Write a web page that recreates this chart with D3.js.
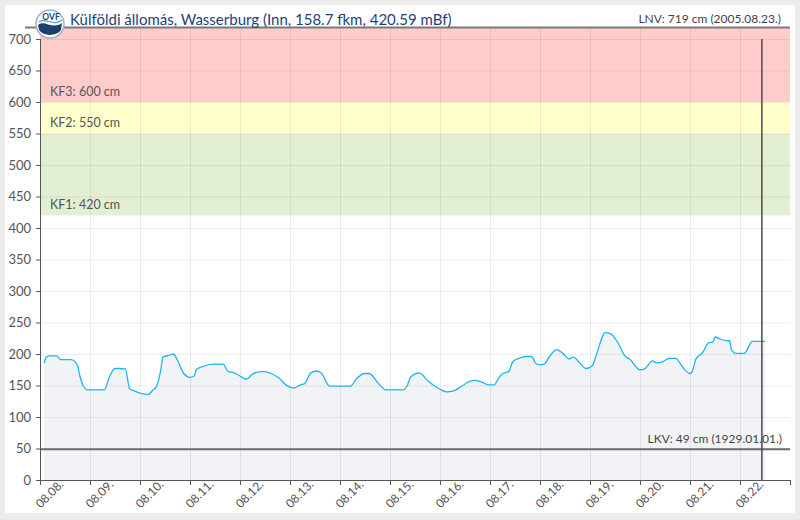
<!DOCTYPE html>
<html>
<head>
<meta charset="utf-8">
<script src="https://cdn.jsdelivr.net/npm/d3@7"></script>
<style>
  html, body { margin: 0; padding: 0; background: #ececec; }
  #chart { position: absolute; left: 5px; top: 5px; width: 790px; height: 508px; background: #fff; overflow: hidden; }
  svg { font-family: Lato, "Open Sans", sans-serif; }
</style>
</head>
<body>
<div id="chart"></div>
<script>
// station info
var title = "Külföldi állomás, Wasserburg (Inn, 158.7 fkm, 420.59 mBf)";
var lnvLabel = "LNV: 719 cm (2005.08.23.)";
var lkvLabel = "LKV: 49 cm (1929.01.01.)";
var lnv = 719, lkv = 49;

// alert levels
var bandNames = ["KF1: 420 cm", "KF2: 550 cm", "KF3: 600 cm"];
var bandFrom = [420, 550, 600];
var bandTo = [550, 600, 719];

var dayTicks = ["08.08.", "08.09.", "08.10.", "08.11.", "08.12.", "08.13.", "08.14.", "08.15.",
  "08.16.", "08.17.", "08.18.", "08.19.", "08.20.", "08.21.", "08.22."];
var nowTime = "08.22. 10:30";

// water level (cm)
var times = [
  "08.08. 02:00", "08.08. 03:00", "08.08. 05:00", "08.08. 08:00", "08.08. 10:00", "08.08. 15:00",
  "08.08. 18:00", "08.08. 19:00", "08.08. 21:00", "08.08. 23:00",
  "08.09. 07:00", "08.09. 09:00", "08.09. 12:00", "08.09. 14:00", "08.09. 17:00", "08.09. 19:00", "08.09. 21:00",
  "08.10. 00:00", "08.10. 04:00", "08.10. 06:00", "08.10. 08:00", "08.10. 10:00", "08.10. 11:00", "08.10. 14:00",
  "08.10. 16:00", "08.10. 18:00", "08.10. 21:00",
  "08.11. 00:00", "08.11. 02:00", "08.11. 03:00", "08.11. 06:00", "08.11. 11:00", "08.11. 16:00", "08.11. 18:00", "08.11. 22:00",
  "08.12. 01:00", "08.12. 03:00", "08.12. 06:00", "08.12. 10:00", "08.12. 12:00", "08.12. 15:00", "08.12. 19:00", "08.12. 22:00",
  "08.13. 02:00", "08.13. 05:00", "08.13. 07:00", "08.13. 10:00", "08.13. 13:00", "08.13. 15:00", "08.13. 19:00",
  "08.14. 05:00", "08.14. 08:00", "08.14. 12:00", "08.14. 14:00", "08.14. 19:00", "08.14. 22:00",
  "08.15. 06:00", "08.15. 08:00", "08.15. 10:00", "08.15. 14:00", "08.15. 18:00", "08.15. 22:00",
  "08.16. 00:00", "08.16. 03:00", "08.16. 07:00", "08.16. 10:00", "08.16. 14:00", "08.16. 17:00", "08.16. 21:00", "08.16. 23:00",
  "08.17. 02:00", "08.17. 04:00", "08.17. 06:00", "08.17. 09:00", "08.17. 11:00", "08.17. 14:00", "08.17. 17:00", "08.17. 20:00", "08.17. 22:00",
  "08.18. 00:00", "08.18. 02:00", "08.18. 05:00", "08.18. 08:00", "08.18. 11:00", "08.18. 14:00", "08.18. 16:00", "08.18. 19:00", "08.18. 22:00",
  "08.19. 01:00", "08.19. 03:00", "08.19. 06:00", "08.19. 07:00", "08.19. 10:00", "08.19. 13:00", "08.19. 17:00", "08.19. 19:00",
  "08.20. 00:00", "08.20. 02:00", "08.20. 06:00", "08.20. 08:00", "08.20. 11:00", "08.20. 14:00", "08.20. 17:00", "08.20. 21:00",
  "08.21. 00:00", "08.21. 01:00", "08.21. 03:00", "08.21. 06:00", "08.21. 09:00", "08.21. 11:00", "08.21. 12:00", "08.21. 15:00",
  "08.21. 18:00", "08.21. 19:00", "08.21. 20:00", "08.21. 22:00",
  "08.22. 02:00", "08.22. 06:00", "08.22. 10:00", "08.22. 12:00"
];
var levels = [
  185, 195, 197, 197, 191, 191,
  182, 167, 148, 143,
  143, 161, 177, 177, 176, 145, 142,
  138, 136, 142, 149, 175, 195, 198,
  200, 190, 169,
  163, 165, 175, 180, 184, 184, 173, 169,
  163, 160, 168, 172, 172, 169, 161, 151,
  146, 151, 153, 170, 173, 170, 149,
  149, 161, 169, 169, 151, 143,
  143, 148, 164, 170, 158, 148,
  144, 140, 142, 148, 156, 158, 154, 151,
  151, 161, 169, 172, 188, 193, 196, 196, 185,
  183, 184, 198, 207, 201, 192, 195, 186, 177,
  181, 198, 228, 234, 232, 220, 196, 192,
  175, 176, 189, 186, 188, 193, 193, 177,
  169, 172, 193, 202, 218, 219, 227, 223,
  221, 221, 206, 201,
  201, 220, 220, 220
];

var parseTime = d3.timeParse("%m.%d. %H:%M");
var data = times.map(function (t, i) { return {date: parseTime(t), value: levels[i]}; });

var margin = {top: 22, right: 0, bottom: 33, left: 35},
  width = 785 - margin.left;

var svg = d3.select("#chart").append("svg")
  .attr("width", 790)
  .attr("height", 508);

var x = d3.scaleTime()
  .domain([parseTime(dayTicks[0] + " 00:00"), d3.timeDay.offset(parseTime(dayTicks[dayTicks.length - 1] + " 00:00"), 1)])
  .range([margin.left, margin.left + width]);
var y = d3.scaleLinear().domain([0, lnv]).range([475, margin.top]);

// alert bands
var bandColors = ["#e3efd3", "#ffffcc", "#ffcccc"];
svg.selectAll(".band")
  .data(bandFrom)
  .enter().append("rect")
    .attr("x", x.range()[0])
    .attr("width", width)
    .attr("y", function (d, i) { return y(bandTo[i]); })
    .attr("height", function (d, i) { return y(d) - y(bandTo[i]); })
    .attr("fill", function (d, i) { return bandColors[i]; });

// area under line
var area = d3.area()
  .curve(d3.curveMonotoneX)
  .x(function (d) { return x(d.date); })
  .y0(y(0))
  .y1(function (d) { return y(d.value); });
svg.append("path").datum(data).attr("d", area).attr("fill", "#f2f3f7");

// grid
var gridColor = "rgba(0,0,0,0.075)";
svg.append("g")
  .selectAll("line")
  .data(d3.range(50, 701, 50))
  .enter().append("line")
    .attr("x1", x.range()[0]).attr("x2", x.range()[1])
    .attr("y1", function (d) { return y(d) + 0.5; })
    .attr("y2", function (d) { return y(d) + 0.5; })
    .attr("stroke", gridColor);
svg.append("g")
  .selectAll("line")
  .data(dayTicks.slice(1))
  .enter().append("line")
    .attr("x1", function (d) { return x(parseTime(d + " 00:00")) + 0.5; })
    .attr("x2", function (d) { return x(parseTime(d + " 00:00")) + 0.5; })
    .attr("y1", y(lnv)).attr("y2", y(0))
    .attr("stroke", gridColor);

// band labels
svg.selectAll(".bandlabel")
  .data(bandNames)
  .enter().append("text")
    .attr("x", margin.left + 10)
    .attr("y", function (d, i) { return y(bandFrom[i]) - 6; })
    .attr("fill", "#555")
    .style("font-size", "12.5px")
    .text(function (d) { return d; });

// water level line
var line = d3.line()
  .curve(d3.curveMonotoneX)
  .x(function (d) { return x(d.date); })
  .y(function (d) { return y(d.value); });
svg.append("path").datum(data)
  .attr("d", line)
  .attr("fill", "none")
  .attr("stroke", "#1cb6ee")
  .attr("stroke-width", 1.3);

// LKV line
svg.append("line")
  .attr("x1", x.range()[0]).attr("x2", x.range()[1])
  .attr("y1", y(lkv)).attr("y2", y(lkv))
  .attr("stroke", "#6b6b6b").attr("stroke-width", 2);
svg.append("text")
  .attr("x", x.range()[1] - 8).attr("y", y(lkv) - 6)
  .attr("text-anchor", "end").attr("fill", "#444")
  .style("font-size", "12px")
  .text(lkvLabel);

// now line
svg.append("line")
  .attr("x1", x(parseTime(nowTime))).attr("x2", x(parseTime(nowTime)))
  .attr("y1", y(700)).attr("y2", y(0))
  .attr("stroke", "#4a4a4a").attr("stroke-width", 1.5);

// top border
svg.append("line")
  .attr("x1", 20).attr("x2", x.range()[1])
  .attr("y1", margin.top + 0.5).attr("y2", margin.top + 0.5)
  .attr("stroke", "#7a7a7a").attr("stroke-width", 2);

// axes
var yAxis = svg.append("g")
  .attr("transform", "translate(" + margin.left + ",0)")
  .call(d3.axisLeft(y).tickValues(d3.range(0, 701, 50)).tickSize(4).tickPadding(5));
yAxis.select(".domain").attr("d", "M0.5," + y(700) + "V" + y(0)).attr("stroke", "#555");
yAxis.selectAll(".tick line").attr("stroke", "#555");
yAxis.selectAll("text").attr("fill", "#555").style("font-size", "13px").style("font-family", "Lato, sans-serif");

var xAxis = svg.append("g")
  .attr("transform", "translate(0," + y(0) + ")")
  .call(d3.axisBottom(x)
    .tickValues(dayTicks.map(function (d) { return parseTime(d + " 00:00"); }).concat([x.domain()[1]]))
    .tickSize(5)
    .tickFormat(function (d, i) { return i < dayTicks.length ? dayTicks[i] : ""; }));
xAxis.select(".domain").attr("stroke", "#555");
xAxis.selectAll(".tick line").attr("stroke", "#555");
xAxis.selectAll("text")
  .attr("fill", "#555")
  .style("font-size", "12px")
  .style("font-family", "Lato, sans-serif")
  .attr("text-anchor", "middle")
  .attr("y", 0)
  .attr("dy", "0.35em")
  .attr("transform", "translate(9,14) rotate(-45)");

// title with logo
var logo = svg.append("g").attr("transform", "translate(45,19)");
logo.append("circle").attr("r", 14).attr("fill", "#fff").attr("stroke", "#9fb3c4").attr("stroke-width", 1.5);
logo.append("path")
  .attr("d", "M-12,1 C-6,-5 2,6 12,-1 L11,6 C7,12 -6,13 -11,6 Z")
  .attr("fill", "#1c3f6e");
logo.append("path")
  .attr("d", "M-11,-2 C-4,-7 3,3 12,-4")
  .attr("fill", "none").attr("stroke", "#3fa7d6").attr("stroke-width", 1.2);
logo.append("text").attr("x", 1).attr("y", -4).attr("text-anchor", "middle")
  .attr("fill", "#1c3f6e").style("font-size", "8.5px").style("font-weight", "bold").text("OVF");

svg.append("text")
  .attr("x", 65).attr("y", 20)
  .attr("fill", "#1f3f7a")
  .style("font-size", "15px")
  .text(title);

svg.append("text")
  .attr("x", x.range()[1] - 9).attr("y", 18)
  .attr("text-anchor", "end").attr("fill", "#444")
  .style("font-size", "12px")
  .text(lnvLabel);
</script>
</body>
</html>
